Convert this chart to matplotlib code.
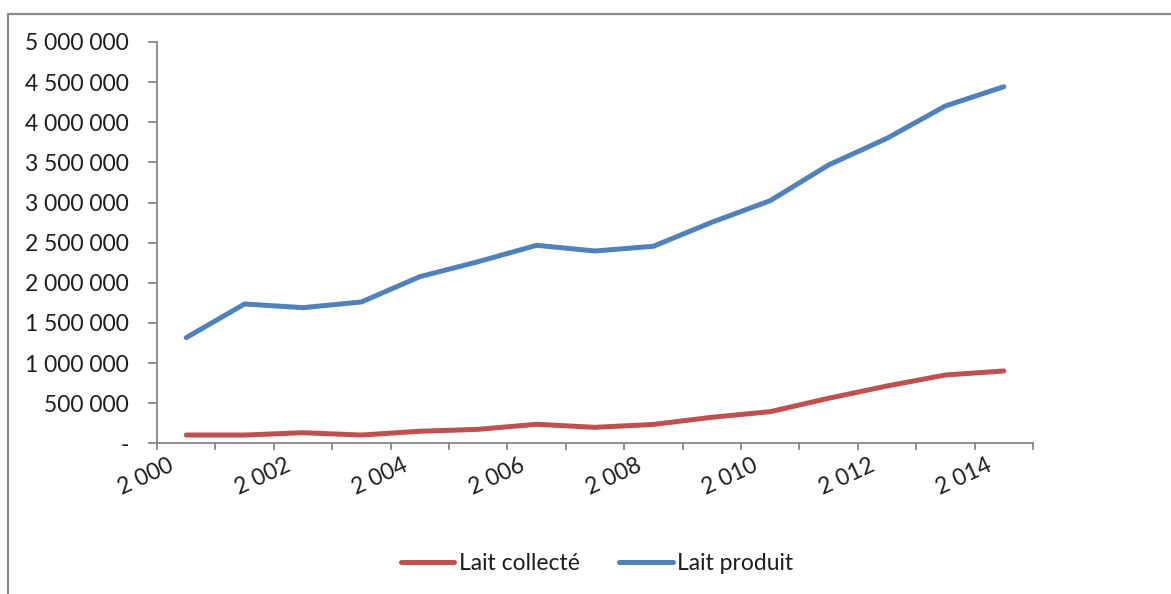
import matplotlib
matplotlib.use("Agg")
import matplotlib.pyplot as plt
from matplotlib.ticker import FixedLocator, FuncFormatter, MultipleLocator
from matplotlib.transforms import ScaledTranslation
from matplotlib.lines import Line2D

plt.rcParams['font.family'] = ['Lato', 'DejaVu Sans']

years = list(range(2000, 2015))
lait_collecte = [103000, 103000, 132000, 103000, 150000, 174000, 237000, 199000,
                 235000, 324000, 394000, 561000, 714000, 851000, 901000]
lait_produit = [1316000, 1736000, 1690000, 1761000, 2076000, 2263000, 2467000, 2396000,
                2455000, 2754000, 3023000, 3468000, 3800000, 4203000, 4443000]
labelled_years = years[::2]

W, H, DPI = 1171, 594, 100
fig = plt.figure(figsize=(W / DPI, H / DPI), dpi=DPI)
fig.patch.set_facecolor('white')

left, right, top, bottom = 157, 1033, 42, 443.3
ax = fig.add_axes([left / W, 1 - bottom / H, (right - left) / W, (bottom - top) / H])

axis_grey = '#868686'
text_col = '#1e1e1e'
fs = 16.5

pos = [i + 0.5 for i in range(len(years))]
ax.plot(pos, lait_collecte, color='#C0504D', lw=3.6, solid_capstyle='round',
        solid_joinstyle='round', label='Lait collecté')
ax.plot(pos, lait_produit, color='#4F81BD', lw=3.6, solid_capstyle='round',
        solid_joinstyle='round', label='Lait produit')

ax.set_xlim(0, len(years))
ax.set_ylim(0, 5000000)

for s in ('top', 'right'):
    ax.spines[s].set_visible(False)
for s in ('left', 'bottom'):
    ax.spines[s].set_color(axis_grey)
    ax.spines[s].set_linewidth(1.3)

ax.yaxis.set_major_locator(MultipleLocator(500000))
ax.yaxis.set_major_formatter(FuncFormatter(
    lambda v, p: '-' if v == 0 else f"{v:,.0f}".replace(',', ' ')))
ax.tick_params(axis='y', which='major', length=6.5, width=1.3, color=axis_grey,
               pad=14, labelsize=fs, labelcolor=text_col)

# category boundaries carry the tick marks; labels sit on every other category
ax.xaxis.set_major_locator(FixedLocator(list(range(len(years) + 1))))
ax.xaxis.set_major_formatter(FuncFormatter(lambda v, p: ''))
ax.xaxis.set_minor_locator(FixedLocator([pos[years.index(y)] for y in labelled_years]))
ax.xaxis.set_minor_formatter(FuncFormatter(
    lambda v, p: f"{labelled_years[p]:,}".replace(',', ' ')))
ax.tick_params(axis='x', which='major', length=5, width=1.3, color=axis_grey)
ax.tick_params(axis='x', which='minor', length=0, pad=8, labelsize=fs,
               labelcolor=text_col, labelrotation=25)
shift = ScaledTranslation(-9 / DPI, 0, fig.dpi_scale_trans)
for lab in ax.xaxis.get_minorticklabels():
    lab.set_ha('right')
    lab.set_va('top')
    lab.set_transform(lab.get_transform() + shift)

# outer chart-area frame
fx, fy = 8 / W, 1 - 14 / H
fig.add_artist(Line2D([fx, fx, 1.05], [-0.05, fy, fy], transform=fig.transFigure,
                      color='#888888', lw=1.6))

leg = fig.legend(loc='center', bbox_to_anchor=(597 / W, 1 - 564 / H), ncol=2,
                 frameon=False, fontsize=fs, handlelength=2.35, handletextpad=0.2,
                 columnspacing=1.7, labelcolor=text_col)

fig.savefig('out.png', dpi=DPI)
